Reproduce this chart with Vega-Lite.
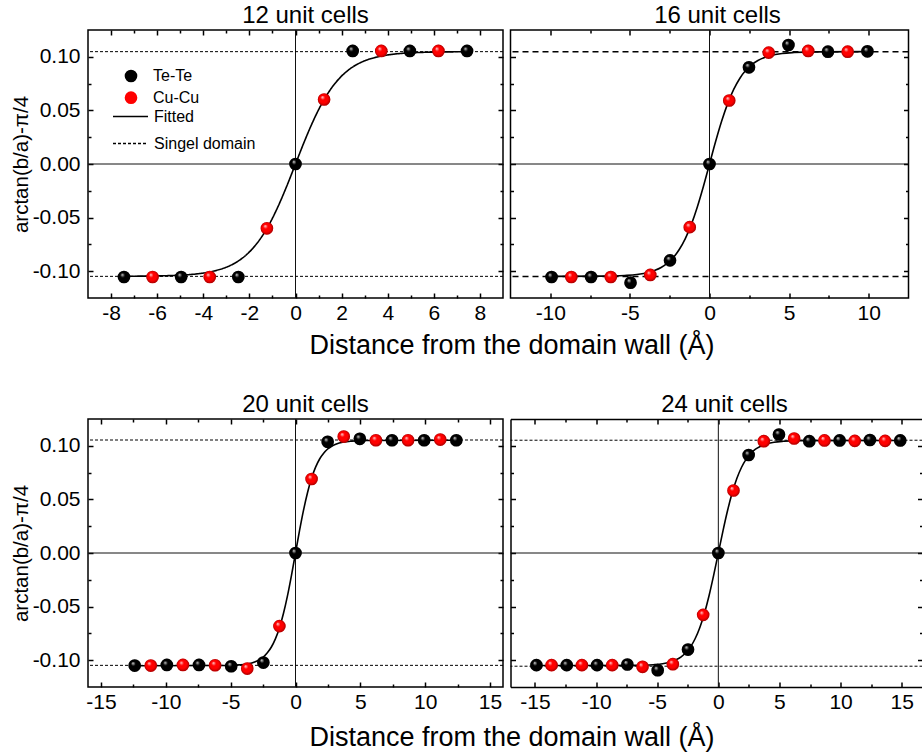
{
  "$schema": "https://vega.github.io/schema/vega-lite/v6.json",
  "padding": {"left": 10, "top": 3, "right": 0, "bottom": 0},
  "background": "white",
  "config": {
    "view": {"stroke": "black", "strokeWidth": 1.5},
    "font": "Liberation Sans",
    "axis": {"domain": false, "grid": false, "tickColor": "black", "tickWidth": 1.5, "domainColor": "black", "domainWidth": 1.5, "labelFont": "Liberation Sans", "labelFontSize": 21, "labelColor": "black", "titleFont": "Liberation Sans", "titleFontWeight": "normal", "titleColor": "black", "titleFontSize": 20.5},
    "legend": {"labelFont": "Liberation Sans", "labelFontSize": 16, "labelColor": "black", "padding": 0, "title": null},
    "title": {"font": "Liberation Sans", "fontSize": 24, "fontWeight": "normal", "color": "black", "offset": 1}
  },
  "datasets": {
    "zero": [{"v": 0}],
    "dom1": [{"v": 0.1048, "kind": "Singel domain"}, {"v": -0.1048, "kind": "Singel domain"}],
    "dom2": [{"v": 0.1046}, {"v": -0.105}],
    "dom3": [{"v": 0.1054}, {"v": -0.1048}],
    "dom4": [{"v": 0.1052}, {"v": -0.1056}],
    "pts1": [
      {"x": -7.44, "y": -0.1054, "series": "Te-Te"}, {"x": -4.96, "y": -0.1054, "series": "Te-Te"}, {"x": -2.48, "y": -0.1054, "series": "Te-Te"}, {"x": 0, "y": 0, "series": "Te-Te"}, {"x": 2.48, "y": 0.1055, "series": "Te-Te"}, {"x": 4.96, "y": 0.1055, "series": "Te-Te"}, {"x": 7.44, "y": 0.1055, "series": "Te-Te"},
      {"x": -6.2, "y": -0.1054, "series": "Cu-Cu"}, {"x": -3.72, "y": -0.1054, "series": "Cu-Cu"}, {"x": -1.24, "y": -0.06, "series": "Cu-Cu"}, {"x": 1.24, "y": 0.0602, "series": "Cu-Cu"}, {"x": 3.72, "y": 0.1055, "series": "Cu-Cu"}, {"x": 6.2, "y": 0.1055, "series": "Cu-Cu"}
    ],
    "pts2": [
      {"x": -9.92, "y": -0.1054, "series": "Te-Te"}, {"x": -7.44, "y": -0.1054, "series": "Te-Te"}, {"x": -4.96, "y": -0.1107, "series": "Te-Te"}, {"x": -2.48, "y": -0.0899, "series": "Te-Te"}, {"x": 0, "y": 0, "series": "Te-Te"}, {"x": 2.48, "y": 0.0902, "series": "Te-Te"}, {"x": 4.96, "y": 0.111, "series": "Te-Te"}, {"x": 7.44, "y": 0.1048, "series": "Te-Te"}, {"x": 9.92, "y": 0.1051, "series": "Te-Te"},
      {"x": -8.68, "y": -0.1054, "series": "Cu-Cu"}, {"x": -6.2, "y": -0.1054, "series": "Cu-Cu"}, {"x": -3.72, "y": -0.1035, "series": "Cu-Cu"}, {"x": -1.24, "y": -0.0589, "series": "Cu-Cu"}, {"x": 1.24, "y": 0.0592, "series": "Cu-Cu"}, {"x": 3.72, "y": 0.1039, "series": "Cu-Cu"}, {"x": 6.2, "y": 0.1055, "series": "Cu-Cu"}, {"x": 8.68, "y": 0.1048, "series": "Cu-Cu"}
    ],
    "pts3": [
      {"x": -12.4, "y": -0.105, "series": "Te-Te"}, {"x": -9.92, "y": -0.1044, "series": "Te-Te"}, {"x": -7.44, "y": -0.1044, "series": "Te-Te"}, {"x": -4.96, "y": -0.1056, "series": "Te-Te"}, {"x": -2.48, "y": -0.1022, "series": "Te-Te"}, {"x": 0, "y": 0, "series": "Te-Te"}, {"x": 2.48, "y": 0.1037, "series": "Te-Te"}, {"x": 4.96, "y": 0.1065, "series": "Te-Te"}, {"x": 7.44, "y": 0.1052, "series": "Te-Te"}, {"x": 9.92, "y": 0.1052, "series": "Te-Te"}, {"x": 12.4, "y": 0.1052, "series": "Te-Te"},
      {"x": -11.16, "y": -0.105, "series": "Cu-Cu"}, {"x": -8.68, "y": -0.1044, "series": "Cu-Cu"}, {"x": -6.2, "y": -0.1047, "series": "Cu-Cu"}, {"x": -3.72, "y": -0.1078, "series": "Cu-Cu"}, {"x": -1.24, "y": -0.0682, "series": "Cu-Cu"}, {"x": 1.24, "y": 0.069, "series": "Cu-Cu"}, {"x": 3.72, "y": 0.1086, "series": "Cu-Cu"}, {"x": 6.2, "y": 0.1052, "series": "Cu-Cu"}, {"x": 8.68, "y": 0.1052, "series": "Cu-Cu"}, {"x": 11.16, "y": 0.1058, "series": "Cu-Cu"}
    ],
    "pts4": [
      {"x": -14.88, "y": -0.1046, "series": "Te-Te"}, {"x": -12.4, "y": -0.1046, "series": "Te-Te"}, {"x": -9.92, "y": -0.1046, "series": "Te-Te"}, {"x": -7.44, "y": -0.104, "series": "Te-Te"}, {"x": -4.96, "y": -0.1093, "series": "Te-Te"}, {"x": -2.48, "y": -0.0901, "series": "Te-Te"}, {"x": 0, "y": 0, "series": "Te-Te"}, {"x": 2.48, "y": 0.0914, "series": "Te-Te"}, {"x": 4.96, "y": 0.1105, "series": "Te-Te"}, {"x": 7.44, "y": 0.1043, "series": "Te-Te"}, {"x": 9.92, "y": 0.105, "series": "Te-Te"}, {"x": 12.4, "y": 0.1054, "series": "Te-Te"}, {"x": 14.88, "y": 0.105, "series": "Te-Te"},
      {"x": -13.64, "y": -0.1046, "series": "Cu-Cu"}, {"x": -11.16, "y": -0.1046, "series": "Cu-Cu"}, {"x": -8.68, "y": -0.1046, "series": "Cu-Cu"}, {"x": -6.2, "y": -0.1062, "series": "Cu-Cu"}, {"x": -3.72, "y": -0.1037, "series": "Cu-Cu"}, {"x": -1.24, "y": -0.0577, "series": "Cu-Cu"}, {"x": 1.24, "y": 0.0583, "series": "Cu-Cu"}, {"x": 3.72, "y": 0.1043, "series": "Cu-Cu"}, {"x": 6.2, "y": 0.1068, "series": "Cu-Cu"}, {"x": 8.68, "y": 0.105, "series": "Cu-Cu"}, {"x": 11.16, "y": 0.1046, "series": "Cu-Cu"}, {"x": 13.64, "y": 0.1046, "series": "Cu-Cu"}
    ],
    "fit1": [
      {"x": -7.44, "y": -0.1047, "kind": "Fitted"}, {"x": -6.65, "y": -0.1046, "kind": "Fitted"}, {"x": -5.32, "y": -0.104, "kind": "Fitted"}, {"x": -4.56, "y": -0.1031, "kind": "Fitted"}, {"x": -3.8, "y": -0.101, "kind": "Fitted"}, {"x": -3.42, "y": -0.0992, "kind": "Fitted"}, {"x": -3.04, "y": -0.0966, "kind": "Fitted"}, {"x": -2.66, "y": -0.0928, "kind": "Fitted"}, {"x": -2.28, "y": -0.0874, "kind": "Fitted"}, {"x": -1.9, "y": -0.0798, "kind": "Fitted"}, {"x": -1.52, "y": -0.0696, "kind": "Fitted"}, {"x": -1.14, "y": -0.0563, "kind": "Fitted"}, {"x": -0.76, "y": -0.0398, "kind": "Fitted"}, {"x": -0.38, "y": -0.0207, "kind": "Fitted"}, {"x": 0, "y": 0, "kind": "Fitted"},
      {"x": 0.38, "y": 0.0207, "kind": "Fitted"}, {"x": 0.76, "y": 0.0398, "kind": "Fitted"}, {"x": 1.14, "y": 0.0563, "kind": "Fitted"}, {"x": 1.52, "y": 0.0696, "kind": "Fitted"}, {"x": 1.9, "y": 0.0798, "kind": "Fitted"}, {"x": 2.28, "y": 0.0874, "kind": "Fitted"}, {"x": 2.66, "y": 0.0928, "kind": "Fitted"}, {"x": 3.04, "y": 0.0966, "kind": "Fitted"}, {"x": 3.42, "y": 0.0992, "kind": "Fitted"}, {"x": 3.8, "y": 0.101, "kind": "Fitted"}, {"x": 4.56, "y": 0.1031, "kind": "Fitted"}, {"x": 5.32, "y": 0.104, "kind": "Fitted"}, {"x": 6.65, "y": 0.1046, "kind": "Fitted"}, {"x": 7.44, "y": 0.1047, "kind": "Fitted"}
    ],
    "fit2": [
      {"x": -9.92, "y": -0.1048}, {"x": -6.65, "y": -0.1046}, {"x": -5.32, "y": -0.104}, {"x": -4.56, "y": -0.1031}, {"x": -3.8, "y": -0.101}, {"x": -3.42, "y": -0.0992}, {"x": -3.04, "y": -0.0966}, {"x": -2.66, "y": -0.0928}, {"x": -2.28, "y": -0.0874}, {"x": -1.9, "y": -0.0798}, {"x": -1.52, "y": -0.0696}, {"x": -1.14, "y": -0.0563}, {"x": -0.76, "y": -0.0398}, {"x": -0.38, "y": -0.0207}, {"x": 0, "y": 0},
      {"x": 0.38, "y": 0.0207}, {"x": 0.76, "y": 0.0398}, {"x": 1.14, "y": 0.0563}, {"x": 1.52, "y": 0.0696}, {"x": 1.9, "y": 0.0798}, {"x": 2.28, "y": 0.0874}, {"x": 2.66, "y": 0.0928}, {"x": 3.04, "y": 0.0966}, {"x": 3.42, "y": 0.0992}, {"x": 3.8, "y": 0.101}, {"x": 4.56, "y": 0.1031}, {"x": 5.32, "y": 0.104}, {"x": 6.65, "y": 0.1046}, {"x": 9.92, "y": 0.1048}
    ],
    "fit3": [
      {"x": -12.4, "y": -0.1052}, {"x": -5.43, "y": -0.105}, {"x": -4.34, "y": -0.1044}, {"x": -3.72, "y": -0.1035}, {"x": -3.1, "y": -0.1014}, {"x": -2.79, "y": -0.0996}, {"x": -2.48, "y": -0.097}, {"x": -2.17, "y": -0.0931}, {"x": -1.86, "y": -0.0877}, {"x": -1.55, "y": -0.0801}, {"x": -1.24, "y": -0.0699}, {"x": -0.93, "y": -0.0565}, {"x": -0.62, "y": -0.04}, {"x": -0.31, "y": -0.0208}, {"x": 0, "y": 0},
      {"x": 0.31, "y": 0.0208}, {"x": 0.62, "y": 0.04}, {"x": 0.93, "y": 0.0565}, {"x": 1.24, "y": 0.0699}, {"x": 1.55, "y": 0.0801}, {"x": 1.86, "y": 0.0877}, {"x": 2.17, "y": 0.0931}, {"x": 2.48, "y": 0.097}, {"x": 2.79, "y": 0.0996}, {"x": 3.1, "y": 0.1014}, {"x": 3.72, "y": 0.1035}, {"x": 4.34, "y": 0.1044}, {"x": 5.43, "y": 0.105}, {"x": 12.4, "y": 0.1052}
    ],
    "fit4": [
      {"x": -14.88, "y": -0.105}, {"x": -6.65, "y": -0.1048}, {"x": -5.32, "y": -0.1042}, {"x": -4.56, "y": -0.1033}, {"x": -3.8, "y": -0.1012}, {"x": -3.42, "y": -0.0994}, {"x": -3.04, "y": -0.0968}, {"x": -2.66, "y": -0.093}, {"x": -2.28, "y": -0.0876}, {"x": -1.9, "y": -0.08}, {"x": -1.52, "y": -0.0697}, {"x": -1.14, "y": -0.0564}, {"x": -0.76, "y": -0.0399}, {"x": -0.38, "y": -0.0207}, {"x": 0, "y": 0},
      {"x": 0.38, "y": 0.0207}, {"x": 0.76, "y": 0.0399}, {"x": 1.14, "y": 0.0564}, {"x": 1.52, "y": 0.0697}, {"x": 1.9, "y": 0.08}, {"x": 2.28, "y": 0.0876}, {"x": 2.66, "y": 0.093}, {"x": 3.04, "y": 0.0968}, {"x": 3.42, "y": 0.0994}, {"x": 3.8, "y": 0.1012}, {"x": 4.56, "y": 0.1033}, {"x": 5.32, "y": 0.1042}, {"x": 6.65, "y": 0.1048}, {"x": 14.88, "y": 0.105}
    ]
  },
  "resolve": {"scale": {"color": "independent", "strokeDash": "independent"}, "legend": {"color": "independent", "strokeDash": "independent"}},
  "spacing": 33,
  "vconcat": [
    {
      "bounds": "flush",
      "spacing": 7.5,
      "resolve": {"scale": {"color": "independent", "strokeDash": "independent"}, "legend": {"color": "independent", "strokeDash": "independent"}},
      "hconcat": [
        {
          "width": 415, "height": 268,
          "title": {"text": "12 unit cells", "dx": 10},
          "resolve": {"axis": {"x": "independent", "y": "independent"}},
          "layer": [
            {"data": {"name": "zero"}, "mark": {"type": "rule", "color": "#111", "strokeWidth": 1},
             "encoding": {"y": {"field": "v", "type": "quantitative", "scale": {"domain": [-0.125, 0.125], "nice": false, "zero": false}, "axis": null}}},
            {"data": {"name": "zero"}, "mark": {"type": "rule", "color": "#111", "strokeWidth": 1},
             "encoding": {"x": {"field": "v", "type": "quantitative", "scale": {"domain": [-9, 9], "nice": false, "zero": false}, "axis": {"orient": "top", "values": [-7, -5, -3, -1, 1, 3, 5, 7], "tickSize": -3, "labels": false, "title": null}}}},
            {"data": {"name": "dom1"}, "mark": {"type": "rule", "color": "black", "strokeWidth": 1},
             "encoding": {"y": {"field": "v", "type": "quantitative", "scale": {"domain": [-0.125, 0.125], "nice": false, "zero": false}, "axis": {"orient": "right", "values": [-0.075, -0.025, 0.025, 0.075], "tickSize": -3, "labels": false, "title": null}},
               "strokeDash": {"field": "kind", "type": "nominal", "scale": {"domain": ["Fitted", "Singel domain"], "range": [[1, 0], [3, 2]]}}}},
            {"data": {"name": "fit1"}, "mark": {"type": "line", "color": "black", "strokeWidth": 1.6, "interpolate": "monotone"},
             "encoding": {
               "x": {"field": "x", "type": "quantitative", "scale": {"domain": [-9, 9], "nice": false, "zero": false}, "axis": {"orient": "bottom", "values": [-7, -5, -3, -1, 1, 3, 5, 7], "tickSize": -3, "labels": false, "title": null}},
               "y": {"field": "y", "type": "quantitative", "scale": {"domain": [-0.125, 0.125], "nice": false, "zero": false}, "axis": {"orient": "left", "values": [-0.075, -0.025, 0.025, 0.075], "tickSize": -3, "labels": false, "title": null}},
               "strokeDash": {"field": "kind", "type": "nominal", "scale": {"domain": ["Fitted", "Singel domain"], "range": [[1, 0], [3, 2]]},
                 "legend": {"orient": "none", "legendX": 24, "legendY": 68, "symbolSize": 1225, "symbolType": "stroke", "symbolStrokeColor": "black", "symbolStrokeWidth": 1.5, "labelOffset": 5, "rowPadding": -23}}}},
            {"data": {"name": "pts1"}, "mark": {"type": "point", "filled": true, "size": 160, "opacity": 1, "strokeWidth": 0},
             "encoding": {
               "x": {"field": "x", "type": "quantitative", "scale": {"domain": [-9, 9], "nice": false, "zero": false}, "axis": {"orient": "bottom", "values": [-8, -6, -4, -2, 0, 2, 4, 6, 8], "tickSize": -5, "labelPadding": 9, "labelExpr": "datum.value < 0 ? '-' + format(-datum.value, 'd') : format(datum.value, 'd')", "title": "Distance from the domain wall (Å)", "titleFontSize": 27, "titleX": 423.5, "titleY": 55, "titleAlign": "center", "titleBaseline": "alphabetic"}},
               "y": {"field": "y", "type": "quantitative", "scale": {"domain": [-0.125, 0.125], "nice": false, "zero": false}, "axis": {"orient": "left", "values": [-0.1, -0.05, 0, 0.05, 0.1], "tickSize": -5, "labelPadding": 13, "labelExpr": "datum.value < 0 ? '-' + format(-datum.value, '.2f') : format(datum.value, '.2f')", "title": "arctan(b/a)-π/4", "titlePadding": 1}},
               "color": {"field": "series", "type": "nominal",
                 "scale": {"domain": ["Te-Te", "Cu-Cu"], "range": ["black", "#ff0000"]},
                 "legend": {"orient": "none", "legendX": 35, "legendY": 38, "symbolSize": 160, "symbolType": "circle", "rowPadding": 5.7, "labelOffset": 14}}}},
            {"data": {"name": "pts1"}, "mark": {"type": "point", "filled": true, "size": 160, "opacity": 1, "strokeWidth": 0,
               "color": {"gradient": "radial", "x1": 0.35, "y1": 0.3, "r1": 0, "x2": 0.5, "y2": 0.5, "r2": 0.5, "stops": [{"offset": 0, "color": "rgba(255,255,255,0.9)"}, {"offset": 0.35, "color": "rgba(255,255,255,0)"}, {"offset": 0.7, "color": "rgba(0,0,0,0)"}, {"offset": 1, "color": "rgba(0,0,0,0.35)"}]}},
             "encoding": {
               "x": {"field": "x", "type": "quantitative", "scale": {"domain": [-9, 9], "nice": false, "zero": false}, "axis": {"orient": "top", "values": [-8, -6, -4, -2, 0, 2, 4, 6, 8], "tickSize": -5, "labels": false, "title": null}},
               "y": {"field": "y", "type": "quantitative", "scale": {"domain": [-0.125, 0.125], "nice": false, "zero": false}, "axis": {"orient": "right", "values": [-0.1, -0.05, 0, 0.05, 0.1], "tickSize": -5, "labels": false, "title": null}}}}
          ]
        },
        {
          "width": 398, "height": 268,
          "title": {"text": "16 unit cells", "dx": 8},
          "resolve": {"axis": {"x": "independent", "y": "independent"}},
          "layer": [
            {"data": {"name": "zero"}, "mark": {"type": "rule", "color": "#111", "strokeWidth": 1},
             "encoding": {"y": {"field": "v", "type": "quantitative", "scale": {"domain": [-0.125, 0.125], "nice": false, "zero": false}, "axis": null}}},
            {"data": {"name": "zero"}, "mark": {"type": "rule", "color": "#111", "strokeWidth": 1},
             "encoding": {"x": {"field": "v", "type": "quantitative", "scale": {"domain": [-12.5, 12.5], "nice": false, "zero": false}, "axis": {"orient": "top", "values": [-7.5, -2.5, 2.5, 7.5], "tickSize": -3, "labels": false, "title": null}}}},
            {"data": {"name": "dom2"}, "mark": {"type": "rule", "color": "black", "strokeWidth": 1.5, "strokeDash": [6, 4]},
             "encoding": {"y": {"field": "v", "type": "quantitative", "scale": {"domain": [-0.125, 0.125], "nice": false, "zero": false}, "axis": {"orient": "right", "values": [-0.075, -0.025, 0.025, 0.075], "tickSize": -3, "labels": false, "title": null}}}},
            {"data": {"name": "fit2"}, "mark": {"type": "line", "color": "black", "strokeWidth": 1.6, "interpolate": "monotone"},
             "encoding": {
               "x": {"field": "x", "type": "quantitative", "scale": {"domain": [-12.5, 12.5], "nice": false, "zero": false}, "axis": {"orient": "bottom", "values": [-7.5, -2.5, 2.5, 7.5], "tickSize": -3, "labels": false, "title": null}},
               "y": {"field": "y", "type": "quantitative", "scale": {"domain": [-0.125, 0.125], "nice": false, "zero": false}, "axis": {"orient": "left", "values": [-0.075, -0.025, 0.025, 0.075], "tickSize": -3, "labels": false, "title": null}}}},
            {"data": {"name": "pts2"}, "mark": {"type": "point", "filled": true, "size": 160, "opacity": 1, "strokeWidth": 0},
             "encoding": {
               "x": {"field": "x", "type": "quantitative", "scale": {"domain": [-12.5, 12.5], "nice": false, "zero": false}, "axis": {"orient": "bottom", "values": [-10, -5, 0, 5, 10], "tickSize": -5, "labelPadding": 9, "labelExpr": "datum.value < 0 ? '-' + format(-datum.value, 'd') : format(datum.value, 'd')", "title": null}},
               "y": {"field": "y", "type": "quantitative", "scale": {"domain": [-0.125, 0.125], "nice": false, "zero": false}, "axis": {"orient": "left", "values": [-0.1, -0.05, 0, 0.05, 0.1], "tickSize": -5, "labels": false, "title": null}},
               "color": {"field": "series", "type": "nominal", "scale": {"domain": ["Te-Te", "Cu-Cu"], "range": ["black", "#ff0000"]}, "legend": null}}},
            {"data": {"name": "pts2"}, "mark": {"type": "point", "filled": true, "size": 160, "opacity": 1, "strokeWidth": 0,
               "color": {"gradient": "radial", "x1": 0.35, "y1": 0.3, "r1": 0, "x2": 0.5, "y2": 0.5, "r2": 0.5, "stops": [{"offset": 0, "color": "rgba(255,255,255,0.9)"}, {"offset": 0.35, "color": "rgba(255,255,255,0)"}, {"offset": 0.7, "color": "rgba(0,0,0,0)"}, {"offset": 1, "color": "rgba(0,0,0,0.35)"}]}},
             "encoding": {
               "x": {"field": "x", "type": "quantitative", "scale": {"domain": [-12.5, 12.5], "nice": false, "zero": false}, "axis": {"orient": "top", "values": [-10, -5, 0, 5, 10], "tickSize": -5, "labels": false, "title": null}},
               "y": {"field": "y", "type": "quantitative", "scale": {"domain": [-0.125, 0.125], "nice": false, "zero": false}, "axis": {"orient": "right", "values": [-0.1, -0.05, 0, 0.05, 0.1], "tickSize": -5, "labels": false, "title": null}}}}
          ]
        }
      ]
    },
    {
      "bounds": "flush",
      "spacing": 7.5,
      "resolve": {"scale": {"color": "independent", "strokeDash": "independent"}, "legend": {"color": "independent", "strokeDash": "independent"}},
      "hconcat": [
        {
          "width": 415, "height": 268,
          "title": {"text": "20 unit cells", "dx": 10},
          "resolve": {"axis": {"x": "independent", "y": "independent"}},
          "layer": [
            {"data": {"name": "zero"}, "mark": {"type": "rule", "color": "#111", "strokeWidth": 1},
             "encoding": {"y": {"field": "v", "type": "quantitative", "scale": {"domain": [-0.125, 0.125], "nice": false, "zero": false}, "axis": null}}},
            {"data": {"name": "zero"}, "mark": {"type": "rule", "color": "#111", "strokeWidth": 1},
             "encoding": {"x": {"field": "v", "type": "quantitative", "scale": {"domain": [-16, 16], "nice": false, "zero": false}, "axis": {"orient": "top", "values": [-12.5, -7.5, -2.5, 2.5, 7.5, 12.5], "tickSize": -3, "labels": false, "title": null}}}},
            {"data": {"name": "dom3"}, "mark": {"type": "rule", "color": "black", "strokeWidth": 1, "strokeDash": [3, 2]},
             "encoding": {"y": {"field": "v", "type": "quantitative", "scale": {"domain": [-0.125, 0.125], "nice": false, "zero": false}, "axis": {"orient": "right", "values": [-0.075, -0.025, 0.025, 0.075], "tickSize": -3, "labels": false, "title": null}}}},
            {"data": {"name": "fit3"}, "mark": {"type": "line", "color": "black", "strokeWidth": 1.6, "interpolate": "monotone"},
             "encoding": {
               "x": {"field": "x", "type": "quantitative", "scale": {"domain": [-16, 16], "nice": false, "zero": false}, "axis": {"orient": "bottom", "values": [-12.5, -7.5, -2.5, 2.5, 7.5, 12.5], "tickSize": -3, "labels": false, "title": null}},
               "y": {"field": "y", "type": "quantitative", "scale": {"domain": [-0.125, 0.125], "nice": false, "zero": false}, "axis": {"orient": "left", "values": [-0.075, -0.025, 0.025, 0.075], "tickSize": -3, "labels": false, "title": null}}}},
            {"data": {"name": "pts3"}, "mark": {"type": "point", "filled": true, "size": 160, "opacity": 1, "strokeWidth": 0},
             "encoding": {
               "x": {"field": "x", "type": "quantitative", "scale": {"domain": [-16, 16], "nice": false, "zero": false}, "axis": {"orient": "bottom", "values": [-15, -10, -5, 0, 5, 10, 15], "tickSize": -5, "labelPadding": 9, "labelExpr": "datum.value < 0 ? '-' + format(-datum.value, 'd') : format(datum.value, 'd')", "title": "Distance from the domain wall (Å)", "titleFontSize": 27, "titleX": 423.5, "titleY": 58.5, "titleAlign": "center", "titleBaseline": "alphabetic"}},
               "y": {"field": "y", "type": "quantitative", "scale": {"domain": [-0.125, 0.125], "nice": false, "zero": false}, "axis": {"orient": "left", "values": [-0.1, -0.05, 0, 0.05, 0.1], "tickSize": -5, "labelPadding": 13, "labelExpr": "datum.value < 0 ? '-' + format(-datum.value, '.2f') : format(datum.value, '.2f')", "title": "arctan(b/a)-π/4", "titlePadding": 1}},
               "color": {"field": "series", "type": "nominal", "scale": {"domain": ["Te-Te", "Cu-Cu"], "range": ["black", "#ff0000"]}, "legend": null}}},
            {"data": {"name": "pts3"}, "mark": {"type": "point", "filled": true, "size": 160, "opacity": 1, "strokeWidth": 0,
               "color": {"gradient": "radial", "x1": 0.35, "y1": 0.3, "r1": 0, "x2": 0.5, "y2": 0.5, "r2": 0.5, "stops": [{"offset": 0, "color": "rgba(255,255,255,0.9)"}, {"offset": 0.35, "color": "rgba(255,255,255,0)"}, {"offset": 0.7, "color": "rgba(0,0,0,0)"}, {"offset": 1, "color": "rgba(0,0,0,0.35)"}]}},
             "encoding": {
               "x": {"field": "x", "type": "quantitative", "scale": {"domain": [-16, 16], "nice": false, "zero": false}, "axis": {"orient": "top", "values": [-15, -10, -5, 0, 5, 10, 15], "tickSize": -5, "labels": false, "title": null}},
               "y": {"field": "y", "type": "quantitative", "scale": {"domain": [-0.125, 0.125], "nice": false, "zero": false}, "axis": {"orient": "right", "values": [-0.1, -0.05, 0, 0.05, 0.1], "tickSize": -5, "labels": false, "title": null}}}}
          ]
        },
        {
          "width": 412, "height": 268,
          "title": {"text": "24 unit cells", "dx": 8},
          "view": {"stroke": null},
          "resolve": {"axis": {"x": "independent", "y": "independent"}},
          "layer": [
            {"data": {"name": "zero"}, "mark": {"type": "rule", "color": "#111", "strokeWidth": 1},
             "encoding": {"y": {"field": "v", "type": "quantitative", "scale": {"domain": [-0.125, 0.125], "nice": false, "zero": false}, "axis": null}}},
            {"data": {"name": "zero"}, "mark": {"type": "rule", "color": "#111", "strokeWidth": 1},
             "encoding": {"x": {"field": "v", "type": "quantitative", "scale": {"domain": [-17, 16.7], "nice": false, "zero": false}, "axis": {"orient": "top", "values": [-12.5, -7.5, -2.5, 2.5, 7.5, 12.5], "tickSize": -3, "labels": false, "title": null}}}},
            {"data": {"name": "dom4"}, "mark": {"type": "rule", "color": "black", "strokeWidth": 1, "strokeDash": [3, 2]},
             "encoding": {"y": {"field": "v", "type": "quantitative", "scale": {"domain": [-0.125, 0.125], "nice": false, "zero": false}, "axis": {"orient": "right", "values": [-0.075, -0.025, 0.025, 0.075], "tickSize": -3, "labels": false, "title": null}}}},
            {"data": {"name": "fit4"}, "mark": {"type": "line", "color": "black", "strokeWidth": 1.6, "interpolate": "monotone"},
             "encoding": {
               "x": {"field": "x", "type": "quantitative", "scale": {"domain": [-17, 16.7], "nice": false, "zero": false}, "axis": {"orient": "bottom", "values": [-12.5, -7.5, -2.5, 2.5, 7.5, 12.5], "tickSize": -3, "labels": false, "title": null}},
               "y": {"field": "y", "type": "quantitative", "scale": {"domain": [-0.125, 0.125], "nice": false, "zero": false}, "axis": {"orient": "left", "values": [-0.075, -0.025, 0.025, 0.075], "tickSize": -3, "labels": false, "title": null}}}},
            {"data": {"name": "pts4"}, "mark": {"type": "point", "filled": true, "size": 160, "opacity": 1, "strokeWidth": 0},
             "encoding": {
               "x": {"field": "x", "type": "quantitative", "scale": {"domain": [-17, 16.7], "nice": false, "zero": false}, "axis": {"orient": "bottom", "domain": true, "values": [-15, -10, -5, 0, 5, 10, 15], "tickSize": -5, "labelPadding": 9, "labelExpr": "datum.value < 0 ? '-' + format(-datum.value, 'd') : format(datum.value, 'd')", "title": null}},
               "y": {"field": "y", "type": "quantitative", "scale": {"domain": [-0.125, 0.125], "nice": false, "zero": false}, "axis": {"orient": "left", "domain": true, "values": [-0.1, -0.05, 0, 0.05, 0.1], "tickSize": -5, "labels": false, "title": null}},
               "color": {"field": "series", "type": "nominal", "scale": {"domain": ["Te-Te", "Cu-Cu"], "range": ["black", "#ff0000"]}, "legend": null}}},
            {"data": {"name": "pts4"}, "mark": {"type": "point", "filled": true, "size": 160, "opacity": 1, "strokeWidth": 0,
               "color": {"gradient": "radial", "x1": 0.35, "y1": 0.3, "r1": 0, "x2": 0.5, "y2": 0.5, "r2": 0.5, "stops": [{"offset": 0, "color": "rgba(255,255,255,0.9)"}, {"offset": 0.35, "color": "rgba(255,255,255,0)"}, {"offset": 0.7, "color": "rgba(0,0,0,0)"}, {"offset": 1, "color": "rgba(0,0,0,0.35)"}]}},
             "encoding": {
               "x": {"field": "x", "type": "quantitative", "scale": {"domain": [-17, 16.7], "nice": false, "zero": false}, "axis": {"orient": "top", "domain": true, "values": [-15, -10, -5, 0, 5, 10, 15], "tickSize": -5, "labels": false, "title": null}},
               "y": {"field": "y", "type": "quantitative", "scale": {"domain": [-0.125, 0.125], "nice": false, "zero": false}, "axis": {"orient": "right", "values": [-0.1, -0.05, 0, 0.05, 0.1], "tickSize": -5, "labels": false, "title": null}}}}
          ]
        }
      ]
    }
  ]
}
